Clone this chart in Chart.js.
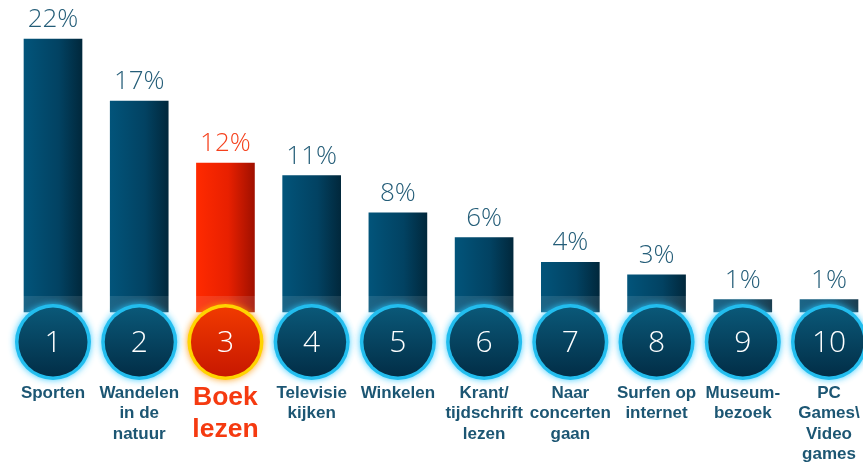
<!DOCTYPE html>
<html>
<head>
<meta charset="utf-8">
<script src="https://cdn.jsdelivr.net/npm/chart.js@4"></script>
<style>
  html, body { margin: 0; padding: 0; background: #fff; }
  #wrap { width: 863px; height: 463px; position: relative; }
</style>
</head>
<body>
<div id="wrap"><canvas id="myChart" width="863" height="463"></canvas></div>
<script>
// data
const ranks = ['1', '2', '3', '4', '5', '6', '7', '8', '9', '10'];
const activities = [
  ['Sporten'],
  ['Wandelen', 'in de', 'natuur'],
  ['Boek', 'lezen'],
  ['Televisie', 'kijken'],
  ['Winkelen'],
  ['Krant/', 'tijdschrift', 'lezen'],
  ['Naar', 'concerten', 'gaan'],
  ['Surfen op', 'internet'],
  ['Museum-', 'bezoek'],
  ['PC', 'Games\\', 'Video', 'games']
];
const percentages = [22, 17, 12, 11, 8, 6, 4, 3, 1, 1];
const highlightIndex = 2; // Boek lezen

// bar gradient, horizontal per bar
function barColor(c) {
  const chart = c.chart;
  if (!chart.chartArea) return '#014a68';
  const x = chart.scales.x.getPixelForValue(c.dataIndex);
  const g = chart.ctx.createLinearGradient(x - 29, 0, x + 29, 0);
  if (c.dataIndex === highlightIndex) {
    g.addColorStop(0, '#ff2a00');
    g.addColorStop(0.55, '#e82000');
    g.addColorStop(1, '#a01000');
  } else {
    g.addColorStop(0, '#02547a');
    g.addColorStop(0.6, '#024262');
    g.addColorStop(1, '#01283c');
  }
  return g;
}

// percent labels, circles with rank, activity labels
const decorPlugin = {
  id: 'decor',
  afterDatasetsDraw(chart) {
    const ctx = chart.ctx;
    const meta = chart.getDatasetMeta(0);
    const base = chart.scales.y.getPixelForValue(0);
    ctx.save();

    // light band over bar feet
    ctx.fillStyle = 'rgba(255,255,255,0.1)';
    ctx.fillRect(0, base - 16, chart.width, 16);

    meta.data.forEach((bar, i) => {
      const hi = i === highlightIndex;
      const x = bar.x;

      // percentage above bar
      ctx.font = '300 26px "Open Sans", Lato, sans-serif';
      ctx.textAlign = 'center';
      ctx.textBaseline = 'alphabetic';
      ctx.fillStyle = hi ? '#f5401c' : '#245d78';
      ctx.fillText(percentages[i] + '%', x, bar.y - 12);

      // circle
      const cy = base + 30;
      ctx.save();
      ctx.shadowColor = hi ? 'rgba(255,150,0,0.9)' : 'rgba(40,200,255,0.9)';
      ctx.shadowBlur = 7;
      ctx.beginPath();
      ctx.arc(x, cy, 38, 0, Math.PI * 2);
      ctx.fillStyle = hi ? '#ffd400' : '#22bdee';
      ctx.fill();
      ctx.restore();

      const rg = ctx.createLinearGradient(0, cy - 34, 0, cy + 34);
      if (hi) {
        rg.addColorStop(0, '#f03a00');
        rg.addColorStop(1, '#c81800');
      } else {
        rg.addColorStop(0, '#0a5878');
        rg.addColorStop(1, '#022e47');
      }
      ctx.beginPath();
      ctx.arc(x, cy, 34.5, 0, Math.PI * 2);
      ctx.fillStyle = rg;
      ctx.fill();

      ctx.font = '300 30px "Open Sans", Lato, sans-serif';
      ctx.textBaseline = 'middle';
      ctx.fillStyle = '#ffffff';
      ctx.fillText(ranks[i], x, cy + 1);

      // activity label
      const lines = activities[i];
      ctx.textBaseline = 'middle';
      if (hi) {
        ctx.font = 'bold 26.5px "Liberation Sans", Arial, sans-serif';
        ctx.fillStyle = '#f53a10';
        lines.forEach((t, k) => ctx.fillText(t, x, 398 + k * 32));
      } else {
        ctx.font = 'bold 17px "Liberation Sans", Arial, sans-serif';
        ctx.fillStyle = '#1c5673';
        lines.forEach((t, k) => ctx.fillText(t, x, 393 + k * 20.5));
      }
    });
    ctx.restore();
  }
};

const chart = new Chart(document.getElementById('myChart').getContext('2d'), {
  type: 'bar',
  data: {
    labels: ranks,
    datasets: [{
      data: percentages,
      backgroundColor: barColor,
      barThickness: 58,
      borderWidth: 0,
      clip: false
    }]
  },
  options: {
    responsive: false,
    animation: false,
    layout: { padding: { top: 39, bottom: 151, left: 53, right: 34 } },
    plugins: { legend: { display: false }, tooltip: { enabled: false } },
    scales: {
      x: { display: false, offset: false, grid: { display: false } },
      y: { display: false, min: 0, max: 22 }
    }
  },
  plugins: [decorPlugin]
});
</script>
</body>
</html>
